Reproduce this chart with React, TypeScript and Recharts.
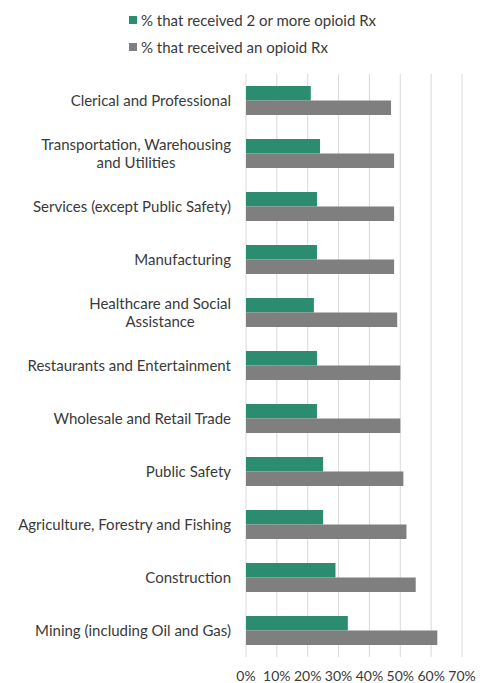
import { useEffect } from 'react'
import { Bar, BarChart, CartesianGrid, XAxis, YAxis } from 'recharts'

const CATEGORIES = [
  'Clerical and Professional',
  'Transportation, Warehousing\nand Utilities',
  'Services (except Public Safety)',
  'Manufacturing',
  'Healthcare and Social\nAssistance',
  'Restaurants and Entertainment',
  'Wholesale and Retail Trade',
  'Public Safety',
  'Agriculture, Forestry and Fishing',
  'Construction',
  'Mining (including Oil and Gas)',
]

// % that received 2 or more opioid Rx
const MULTI_RX = [21, 24, 23, 23, 22, 23, 23, 25, 25, 29, 33]
// % that received an opioid Rx
const ANY_RX = [47, 48, 48, 48, 49, 50, 50, 51, 52, 55, 62]

const X_TICKS = [0, 10, 20, 30, 40, 50, 60, 70]

const GREEN = '#2b8c70'
const GRAY = '#7f7f7f'
const TEXT = '#3a3a3a'
const FONT = 'Lato, sans-serif'
const FONT_SIZE = 15

const data = CATEGORIES.map((name, i) => ({ name, multi: MULTI_RX[i], any: ANY_RX[i] }))

let measureCtx: CanvasRenderingContext2D | null = null
function textWidth(text: string) {
  if (!measureCtx) {
    measureCtx = document.createElement('canvas').getContext('2d')
  }
  if (!measureCtx) return text.length * 7
  measureCtx.font = `${FONT_SIZE}px ${FONT}`
  return measureCtx.measureText(text).width
}

function CategoryTick({ x, y, payload }: any) {
  const lines = String(payload.value).split('\n')
  if (lines.length === 1) {
    return (
      <text x={x} y={y} dy="0.35em" textAnchor="end" fill={TEXT} fontSize={FONT_SIZE} fontFamily={FONT}>
        {lines[0]}
      </text>
    )
  }
  const w = textWidth(lines[0])
  return (
    <g>
      <text x={x} y={y - 9} dy="0.35em" textAnchor="end" fill={TEXT} fontSize={FONT_SIZE} fontFamily={FONT}>
        {lines[0]}
      </text>
      <text x={x - w / 2} y={y + 9} dy="0.35em" textAnchor="middle" fill={TEXT} fontSize={FONT_SIZE} fontFamily={FONT}>
        {lines[1]}
      </text>
    </g>
  )
}

function LegendRow({ color, label, top }: { color: string; label: string; top: number }) {
  return (
    <div style={{ position: 'absolute', left: 129, top, display: 'flex', alignItems: 'center', height: 14 }}>
      <span style={{ width: 8, height: 8, background: color, display: 'inline-block', marginRight: 4 }} />
      <span style={{ fontFamily: FONT, fontSize: FONT_SIZE, color: TEXT, lineHeight: '14px' }}>{label}</span>
    </div>
  )
}

export default function App() {
  useEffect(() => {
    document.body.style.margin = '0'
  }, [])

  return (
    <div style={{ position: 'relative', width: 487, height: 683, background: '#fff' }}>
      <LegendRow color={GREEN} label="% that received 2 or more opioid Rx" top={13} />
      <LegendRow color={GRAY} label="% that received an opioid Rx" top={40} />
      <BarChart
        width={487}
        height={683}
        data={data}
        layout="vertical"
        margin={{ top: 74, right: 25, bottom: 0, left: 0 }}
        barSize={14.5}
        barGap={0}
      >
        <CartesianGrid horizontal={false} stroke="#d9d9d9" />
        <XAxis
          type="number"
          domain={[0, 70]}
          ticks={X_TICKS}
          tickFormatter={(v: number) => `${v}%`}
          axisLine={false}
          tickLine={false}
          tickSize={0}
          tickMargin={14}
          height={26}
          tick={{ fill: TEXT, fontSize: 14, fontFamily: FONT }}
          interval={0}
        />
        <YAxis
          type="category"
          dataKey="name"
          width={246}
          axisLine={false}
          tickLine={false}
          tickSize={0}
          tickMargin={15}
          interval={0}
          tick={<CategoryTick />}
        />
        <Bar dataKey="multi" fill={GREEN} isAnimationActive={false} />
        <Bar dataKey="any" fill={GRAY} isAnimationActive={false} />
      </BarChart>
    </div>
  )
}
